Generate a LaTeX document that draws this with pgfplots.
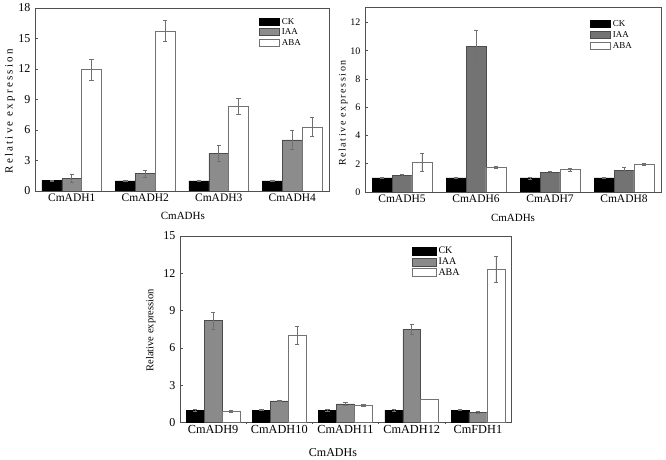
\documentclass[border=0pt]{standalone}
\usepackage{pgfplots}
\pgfplotsset{compat=1.18}
\usepackage{fontspec}
\setmainfont{Liberation Serif}
\newfontfamily\spaceda[LetterSpace=20]{Liberation Serif}
\newfontfamily\spacedb[LetterSpace=16]{Liberation Serif}
\definecolor{iaaA}{HTML}{8C8C8C}
\definecolor{iaaB}{HTML}{737373}
\definecolor{iaaC}{HTML}{8A8A8A}
\definecolor{frame}{HTML}{505050}
\definecolor{errc}{HTML}{707070}
\pgfplotsset{
  mybars/.style={
    scale only axis,
    ybar=0pt, bar width=0.27,
    xmin=-0.5, ymin=0,
    axis line style={draw=frame, line width=0.7pt},
    tick style={draw=frame, line width=0.6pt},
    tick align=inside, major tick length=3pt,
    xtick pos=bottom, ytick pos=left,
    extra x tick style={tick align=outside, major tick length=1.5pt},
    /pgf/number format/assume math mode=true,
    error bars/y dir=both, error bars/y explicit,
    error bars/error bar style={errc, line width=0.5pt},
    error bars/error mark options={rotate=90, mark size=2.2pt, errc, line width=0.5pt},
    legend image code/.code={\draw[##1,line width=0.6pt] (0pt,-3.6pt) rectangle (20pt,3.6pt);},
    legend cell align=left,
    legend style={draw=none, fill=none, anchor=north west, inner sep=0pt,
      nodes={inner xsep=2pt, inner ysep=0.8pt, text height=7pt, text depth=1.8pt},
      /tikz/every odd column/.append style={column sep=0pt}},
  },
  ckstyle/.style={fill=black, draw=black},
  abastyle/.style={fill=white, draw=black!55},
}
\begin{document}
\begin{tikzpicture}
\useasboundingbox (0pt,0pt) rectangle (666pt,460pt);
% Panel 1
\begin{axis}[mybars,
  at={(35pt,269pt)}, anchor=south west, width=294pt, height=183pt,
  xmax=3.5, ymax=18, ytick={0,3,...,18},
  xtick={0,1,2,3}, xticklabels={CmADH1,CmADH2,CmADH3,CmADH4},
  extra x ticks={0.5,1.5,2.5}, extra x tick labels={},
  x tick label style={font=\fontsize{11.5}{12}\selectfont, yshift=1pt},
  y tick label style={font=\fontsize{12}{12}\selectfont, xshift=-1pt},
  xlabel={CmADHs}, xlabel style={font=\fontsize{11}{12}\selectfont, at={(axis description cs:0.503,-0.137)}, anchor=center},
  ylabel={\spaceda Relative expression}, ylabel style={font=\fontsize{11}{12}\selectfont, at={(axis description cs:-0.085,0.435)}, anchor=center},
  legend style={at={(axis description cs:0.762,0.955)}, font=\fontsize{9}{9}\selectfont},
]
\addplot[ckstyle] coordinates {(0,1.02) +- (0,0.07) (1,1.0) +- (0,0.07) (2,1.0) +- (0,0.04) (3,1.0) +- (0,0.07)};
\addplot[fill=iaaA, draw=black!70] coordinates {(0,1.25) +- (0,0.4) (1,1.71) +- (0,0.35) (2,3.72) +- (0,0.8) (3,5.03) +- (0,0.94)};
\addplot[abastyle] coordinates {(0,11.94) +- (0,1.0) (1,15.76) +- (0,1.05) (2,8.36) +- (0,0.77) (3,6.28) +- (0,0.94)};
\legend{CK,IAA,ABA}
\end{axis}
% Panel 2
\begin{axis}[mybars,
  at={(365pt,268pt)}, anchor=south west, width=296pt, height=185pt,
  xmax=3.5, ymax=13.1, ytick={0,2,...,12},
  xtick={0,1,2,3}, xticklabels={CmADH5,CmADH6,CmADH7,CmADH8},
  extra x ticks={0.5,1.5,2.5}, extra x tick labels={},
  x tick label style={font=\fontsize{11.5}{12}\selectfont, yshift=1pt},
  y tick label style={font=\fontsize{10}{10}\selectfont, xshift=-1pt},
  xlabel={CmADHs}, xlabel style={font=\fontsize{11}{12}\selectfont, at={(axis description cs:0.5,-0.141)}, anchor=center},
  ylabel={\spacedb Relative expression}, ylabel style={font=\fontsize{10}{12}\selectfont, at={(axis description cs:-0.074,0.427)}, anchor=center},
  legend style={at={(axis description cs:0.76,0.94)}, font=\fontsize{9}{9}\selectfont, nodes={text height=7.5pt, text depth=2pt}},
]
\addplot[ckstyle] coordinates {(0,1.0) +- (0,0.06) (1,1.0) +- (0,0.06) (2,1.0) +- (0,0.07) (3,1.0) +- (0,0.03)};
\addplot[fill=iaaB, draw=black!70] coordinates {(0,1.2) +- (0,0.07) (1,10.32) +- (0,1.12) (2,1.37) +- (0,0.08) (3,1.55) +- (0,0.18)};
\addplot[abastyle] coordinates {(0,2.12) +- (0,0.63) (1,1.75) +- (0,0.07) (2,1.6) +- (0,0.1) (3,1.95) +- (0,0.07)};
\legend{CK,IAA,ABA}
\end{axis}
% Panel 3
\begin{axis}[mybars,
  at={(180pt,37.5pt)}, anchor=south west, width=331pt, height=186.5pt,
  xmax=4.5, ymax=15, ytick={0,3,...,15},
  xtick={0,1,2,3,4}, xticklabels={CmADH9,CmADH10,CmADH11,CmADH12,CmFDH1},
  extra x ticks={0.5,1.5,2.5,3.5}, extra x tick labels={},
  x tick label style={font=\fontsize{12.3}{13}\selectfont, yshift=1pt},
  y tick label style={font=\fontsize{12}{12}\selectfont, xshift=-1pt},
  xlabel={CmADHs}, xlabel style={font=\fontsize{12}{12}\selectfont, at={(axis description cs:0.462,-0.161)}, anchor=center},
  ylabel={Relative expression}, ylabel style={font=\fontsize{10.5}{12}\selectfont, at={(axis description cs:-0.088,0.495)}, anchor=center},
  legend style={at={(axis description cs:0.70,0.95)}, font=\fontsize{10}{10}\selectfont, nodes={text height=7.5pt, text depth=1.8pt}},
  legend image code/.code={\draw[#1,line width=0.6pt] (0pt,-4pt) rectangle (24pt,4pt);},
]
\addplot[ckstyle] coordinates {(0,1.0) +- (0,0.06) (1,1.0) +- (0,0.05) (2,1.0) +- (0,0.07) (3,1.0) +- (0,0.06) (4,1.0) +- (0,0.05)};
\addplot[fill=iaaC, draw=black!70] coordinates {(0,8.2) +- (0,0.67) (1,1.74) +- (0,0.07) (2,1.5) +- (0,0.1) (3,7.5) +- (0,0.43) (4,0.83) +- (0,0.05)};
\addplot[abastyle] coordinates {(0,0.91) +- (0,0.06) (1,7.02) +- (0,0.74) (2,1.37) +- (0,0.07) (3,1.87) +- (0,0.04) (4,12.32) +- (0,1.03)};
\legend{CK,IAA,ABA}
\end{axis}
\end{tikzpicture}
\end{document}
